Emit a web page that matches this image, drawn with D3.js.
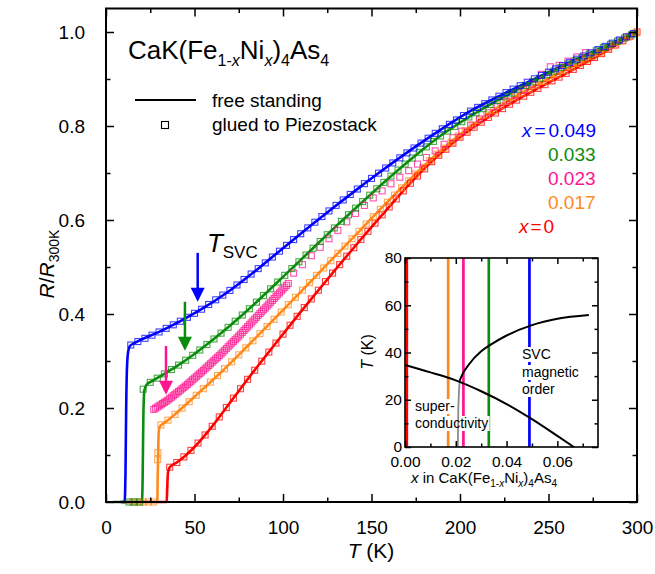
<!DOCTYPE html>
<html>
<head>
<meta charset="utf-8">
<script src="https://cdn.jsdelivr.net/npm/d3@7"></script>
<style>
body { margin: 0; background: #fff; }
svg { font-family: "Liberation Sans", Arial, sans-serif; }
</style>
</head>
<body>
<svg id="chart" width="655" height="574"></svg>
<script>

// ---- main panel data: R/R300K vs T (K) ----
var tempTicks = [0, 50, 100, 150, 200, 250, 300];
var tempMinor = [25, 75, 125, 175, 225, 275];
var resTicks = [0, 0.2, 0.4, 0.6, 0.8, 1.0];
var resMinor = [0.1, 0.3, 0.5, 0.7, 0.9];

// free standing (solid lines)
var blueLineT = [8, 10.5, 11, 11.4, 11.9, 12.6, 13.5, 16, 30, 42, 53, 70, 87, 100, 115, 128, 143.5, 155, 168, 187, 206, 225, 243, 260, 280, 300];
var blueLineR = [0, 0, 0.06, 0.2, 0.29, 0.322, 0.332, 0.338, 0.362, 0.385, 0.408, 0.45, 0.4995, 0.54, 0.586, 0.625, 0.67, 0.7025, 0.738, 0.787, 0.832, 0.869, 0.902, 0.932, 0.966, 1.0];
var greenLineT = [4, 20.3, 20.7, 21.1, 21.7, 23, 26, 30, 40, 50, 60, 70, 80, 90, 100, 115, 130, 145, 160, 175, 190, 205, 220, 240, 260, 280, 300];
var greenLineR = [0, 0, 0.05, 0.18, 0.238, 0.25, 0.257, 0.266, 0.289, 0.315, 0.344, 0.375, 0.408, 0.443, 0.479, 0.533, 0.587, 0.639, 0.69, 0.738, 0.782, 0.819, 0.852, 0.892, 0.93, 0.965, 1.0];
var orangeLineT = [10, 29, 29.2, 29.5, 29.8, 30.5, 32, 35, 40, 50, 65, 80, 95, 110, 125, 140, 155, 170, 185, 200, 215, 230, 245, 260, 280, 300];
var orangeLineR = [0, 0, 0.05, 0.11, 0.15, 0.161, 0.166, 0.174, 0.19, 0.224, 0.276, 0.332, 0.389, 0.447, 0.506, 0.564, 0.623, 0.68, 0.734, 0.782, 0.824, 0.86, 0.891, 0.92, 0.958, 1.0];
var redLineT = [9, 34.3, 34.6, 35, 36, 40, 45, 50, 55, 60, 70, 80, 95, 110, 125, 140, 155, 170, 185, 200, 215, 230, 245, 260, 280, 300];
var redLineR = [0, 0, 0.03, 0.062, 0.074, 0.084, 0.099, 0.117, 0.138, 0.161, 0.211, 0.261, 0.3335, 0.4045, 0.4735, 0.541, 0.6065, 0.6705, 0.728, 0.776, 0.816, 0.851, 0.882, 0.912, 0.954, 1.0];

// glued to piezostack (open squares), one value every 4 K from the start temperature
var gluedStep = 4;
var blueGluedStart = 14;
var blueGlued = [0.334,0.3414,0.3482,0.355,0.3618,0.3694,0.377,0.3846,0.393,0.4014,
  0.4102,0.4202,0.4302,0.4402,0.4502,0.4618,0.4734,0.485,0.4966,0.5088,
  0.5212,0.5336,0.546,0.5584,0.5708,0.5832,0.5953,0.6073,0.6193,0.6311,
  0.6427,0.6543,0.6659,0.6773,0.6885,0.6997,0.7106,0.7214,0.7322,0.7428,
  0.7532,0.7636,0.774,0.7844,0.7941,0.8035,0.8129,0.8223,0.8317,0.8396,
  0.8475,0.8554,0.8634,0.8711,0.8784,0.8857,0.8931,0.9004,0.9075,0.9145,
  0.9215,0.9285,0.9354,0.9422,0.949,0.9558,0.9626,0.9694,0.9762,0.983,0.9898,0.9966];
var greenGluedStart = 21;
var greenGlued = [0.24,0.2546,0.2635,0.2726,0.2818,0.2913,0.3017,0.3121,0.3234,0.335,
  0.3468,0.3592,0.3716,0.3846,0.3978,0.4112,0.4252,0.4392,0.4535,0.4679,
  0.4823,0.4967,0.5111,0.5255,0.5399,0.5543,0.5687,0.5831,0.5972,0.6112,
  0.6252,0.6392,0.6528,0.6664,0.68,0.6934,0.7062,0.719,0.7318,0.744,
  0.7556,0.7672,0.7788,0.7892,0.7992,0.8092,0.8192,0.828,0.8368,0.8456,
  0.8542,0.8622,0.8702,0.8782,0.8862,0.8941,0.9017,0.9093,0.9169,0.9245,
  0.932,0.939,0.946,0.953,0.96,0.9669,0.9737,0.9805,0.9873,0.9941];
var orangeGluedStart = 31;
var orangeGlued = [0.164,0.1741,0.1865,0.1998,0.2134,0.2271,0.2411,0.2551,0.2691,0.2835,
  0.2983,0.3131,0.3279,0.343,0.3582,0.3734,0.3886,0.4042,0.4198,0.4354,
  0.451,0.4666,0.4822,0.4978,0.5134,0.529,0.5446,0.5602,0.5758,0.5914,
  0.607,0.6226,0.6378,0.653,0.6682,0.6832,0.6976,0.712,0.7264,0.74,
  0.7528,0.7656,0.7784,0.79,0.8012,0.8124,0.8236,0.8332,0.8428,0.8524,
  0.8617,0.8701,0.8785,0.8869,0.8949,0.9025,0.9101,0.9177,0.9253,0.9329,
  0.9405,0.9481,0.9557,0.9639,0.9723,0.9807,0.9891,0.9975];
var redGluedStart = 36;
var redGlued = [0.074,0.084,0.096,0.1098,0.1254,0.1426,0.161,0.181,0.201,0.221,
  0.241,0.261,0.2803,0.2996,0.319,0.3382,0.3572,0.3761,0.395,0.4137,
  0.4321,0.4505,0.4689,0.487,0.505,0.523,0.541,0.5585,0.576,0.5934,
  0.611,0.6278,0.6449,0.662,0.6782,0.6935,0.7088,0.7241,0.7376,0.7504,
  0.7632,0.776,0.7867,0.7974,0.808,0.8183,0.8277,0.837,0.8463,0.8551,
  0.8634,0.8717,0.88,0.888,0.896,0.904,0.912,0.9204,0.9288,0.9372,
  0.9456,0.954,0.9632,0.9724,0.9816,0.9908,1.0];
// x = 0.023 was only measured glued: dense (every 1 K) up to 103 K, sparse above
var pinkDenseStart = 27, pinkDenseStep = 1;
var pinkDense = [0.197,0.1995,0.202,0.2045,0.207,0.2095,0.212,0.2145,0.217,
  0.22,0.223,0.226,0.229,0.232,0.235,0.238,0.241,0.244,0.247,
  0.2503,0.2536,0.2569,0.2602,0.2635,0.2668,0.2701,0.2734,0.2767,0.28,
  0.2835,0.287,0.2905,0.294,0.2975,0.301,0.3045,0.308,0.3115,0.315,
  0.3188,0.3226,0.3264,0.3302,0.334,0.3378,0.3416,0.3454,0.3492,0.353,
  0.357,0.361,0.365,0.369,0.373,0.377,0.381,0.385,0.389,0.393,
  0.397,0.401,0.405,0.409,0.413,0.417,0.421,0.425,0.429,0.433,
  0.437,0.441,0.445,0.449,0.453,0.457,0.461,0.465];
var pinkSparseStart = 106, pinkSparseStep = 5;
var pinkSparse = [0.487,0.505,0.524,0.542,0.56,0.578,0.596,0.614,0.631,0.647,
  0.662,0.677,0.691,0.705,0.719,0.733,0.747,0.761,0.775,0.789,
  0.802,0.815,0.828,0.841,0.853,0.865,0.877,0.889,0.91,0.926,
  0.929,0.938,0.947,0.956];
// squares in the superconducting state / in the transition
var greenZeroT = [13, 16, 19];
var orangeZeroT = [15, 18, 21, 24, 27];
var orangeTransT = [29.2, 29.3];
var orangeTransR = [0.09, 0.105];

// T_SVC arrows (blue, green, pink)
var arrowT = [51.8, 44.6, 33.9];
var arrowFrom = [0.53, 0.426, 0.332];
var arrowTo = [0.426, 0.322, 0.228];

// ---- inset: phase diagram ----
var insetXTicks = [0, 0.02, 0.04, 0.06];
var insetXMinor = [0.01, 0.03, 0.05, 0.07];
var insetYTicks = [0, 20, 40, 60, 80];
var insetYMinor = [10, 30, 50, 70];
var insetDoping = [0, 0.017, 0.023, 0.033, 0.049];
var scDomeX = [0, 0.01, 0.02, 0.03, 0.04, 0.05, 0.06, 0.0665];
var scDomeT = [34.7, 31.6, 28.2, 23.6, 18.2, 11.8, 4.7, 0];
var svcX = [0.0215, 0.0225, 0.025, 0.03, 0.0336, 0.04, 0.05, 0.06, 0.0724];
var svcT = [28, 30.5, 34.7, 40.5, 43.2, 47.2, 51.6, 54.3, 55.9];
var svcInsideX = [0.0208, 0.0209, 0.021, 0.0212, 0.0215];
var svcInsideT = [0, 8, 16, 22, 28];

var RED = '#ff0000', ORANGE = '#ff8a1c', PINK = '#ff1490', GREEN = '#0c8c0c', BLUE = '#0000ff';
var dopingColors = [RED, ORANGE, PINK, GREEN, BLUE];

var svg = d3.select('#chart');

var x = d3.scaleLinear().domain([0, 300]).range([106, 637]);
var y = d3.scaleLinear().domain([0, 1.05]).range([502, 8.5]);

function zip(a, b) { return a.map(function(v, i) { return [v, b[i]]; }); }
function stepped(start, step, vals) { return vals.map(function(v, i) { return [start + i * step, v]; }); }

// text with sub-scripts and italics
function rich(t, parts, subSize, drop) {
    var level = 0;
    parts.forEach(function(p) {
        var s = t.append('tspan').text(p.t);
        var want = p.sub ? 1 : 0;
        if (want !== level) { s.attr('dy', want ? drop : -drop); level = want; }
        if (p.sub) s.attr('font-size', subSize);
        if (p.i) s.attr('font-style', 'italic');
        if (p.dx) s.attr('dx', p.dx);
    });
    return t;
}

function drawFrame(g, xs, ys, xt, xm, yt, ym, big, small, xFmt, yFmt, fs, padB, padL, frameW) {
    var r = xs.range(), q = ys.range();
    var bottom = 'translate(0,' + q[0] + ')', top = 'translate(0,' + q[1] + ')';
    var left = 'translate(' + r[0] + ',0)', right = 'translate(' + r[1] + ',0)';
    g.append('g').attr('transform', bottom).call(d3.axisBottom(xs).tickValues(xt).tickSizeInner(-big).tickSizeOuter(0).tickPadding(padB).tickFormat(xFmt));
    g.append('g').attr('transform', bottom).call(d3.axisBottom(xs).tickValues(xm).tickSizeInner(-small).tickSizeOuter(0).tickFormat(''));
    g.append('g').attr('transform', top).call(d3.axisTop(xs).tickValues(xt).tickSizeInner(-big).tickSizeOuter(0).tickFormat(''));
    g.append('g').attr('transform', top).call(d3.axisTop(xs).tickValues(xm).tickSizeInner(-small).tickSizeOuter(0).tickFormat(''));
    g.append('g').attr('transform', left).call(d3.axisLeft(ys).tickValues(yt).tickSizeInner(-big).tickSizeOuter(0).tickPadding(padL).tickFormat(yFmt));
    g.append('g').attr('transform', left).call(d3.axisLeft(ys).tickValues(ym).tickSizeInner(-small).tickSizeOuter(0).tickFormat(''));
    g.append('g').attr('transform', right).call(d3.axisRight(ys).tickValues(yt).tickSizeInner(-big).tickSizeOuter(0).tickFormat(''));
    g.append('g').attr('transform', right).call(d3.axisRight(ys).tickValues(ym).tickSizeInner(-small).tickSizeOuter(0).tickFormat(''));
    g.selectAll('.domain').remove();
    g.selectAll('.tick line').attr('stroke', '#000').attr('stroke-width', 1.5);
    g.selectAll('.tick text').attr('font-size', fs).attr('font-family', '"Liberation Sans", Arial, sans-serif').attr('fill', '#000');
    g.append('rect')
        .attr('x', r[0]).attr('y', q[1])
        .attr('width', r[1] - r[0]).attr('height', q[0] - q[1])
        .attr('fill', 'none').attr('stroke', '#000').attr('stroke-width', frameW);
}

// ---- main curves ----
var line = d3.line().x(d => x(d[0])).y(d => y(d[1])).curve(d3.curveMonotoneX);
var curves = svg.append('g');

var lineSets = [
    [redLineT, redLineR, RED],
    [orangeLineT, orangeLineR, ORANGE],
    [blueLineT, blueLineR, BLUE],
    [greenLineT, greenLineR, GREEN]
];
lineSets.forEach(function(s) {
    curves.append('path')
        .attr('d', line(zip(s[0], s[1])))
        .attr('fill', 'none')
        .attr('stroke', s[2])
        .attr('stroke-width', 2.6)
        .attr('stroke-linejoin', 'round');
});

var sq = 6;
function squares(pts, color) {
    curves.append('g').selectAll('rect').data(pts).enter()
        .append('rect')
        .attr('x', d => x(d[0]) - sq / 2)
        .attr('y', d => y(d[1]) - sq / 2)
        .attr('width', sq).attr('height', sq)
        .attr('fill', 'none')
        .attr('stroke', color)
        .attr('stroke-opacity', 0.75)
        .attr('stroke-width', 1.1);
}
squares(stepped(redGluedStart, gluedStep, redGlued), RED);
squares(orangeZeroT.map(t => [t, 0]).concat(zip(orangeTransT, orangeTransR), stepped(orangeGluedStart, gluedStep, orangeGlued)), ORANGE);
squares(stepped(pinkDenseStart, pinkDenseStep, pinkDense).concat(stepped(pinkSparseStart, pinkSparseStep, pinkSparse)), PINK);
squares(greenZeroT.map(t => [t, 0]).concat(stepped(greenGluedStart, gluedStep, greenGlued)), GREEN);
squares(stepped(blueGluedStart, gluedStep, blueGlued), BLUE);

// arrows marking T_SVC
var arrowColors = [BLUE, GREEN, PINK];
arrowT.forEach(function(t, i) {
    var ax = x(t), y0 = y(arrowFrom[i]), y1 = y(arrowTo[i]);
    var head = 14, half = 7;
    svg.append('line')
        .attr('x1', ax).attr('x2', ax)
        .attr('y1', y0).attr('y2', y1 - head + 1)
        .attr('stroke', arrowColors[i]).attr('stroke-width', 2.5);
    svg.append('path')
        .attr('d', 'M' + (ax - half) + ',' + (y1 - head) + 'L' + (ax + half) + ',' + (y1 - head) + 'L' + ax + ',' + y1 + 'Z')
        .attr('fill', arrowColors[i]);
});

drawFrame(svg.append('g'), x, y, tempTicks, tempMinor, resTicks, resMinor, 8, 4.5,
    d3.format('d'), d3.format('.1f'), 19, 19, 21, 2);

// axis titles
rich(svg.append('text').attr('x', 371).attr('y', 558).attr('text-anchor', 'middle').attr('font-size', 21),
    [{t: 'T', i: 1}, {t: ' (K)'}], 14, 5);
rich(svg.append('text').attr('transform', 'translate(54,264) rotate(-90)').attr('text-anchor', 'middle').attr('font-size', 21),
    [{t: 'R', i: 1}, {t: '/'}, {t: 'R', i: 1}, {t: '300K', sub: 1}], 14, 5);

// title and legend
rich(svg.append('text').attr('x', 128).attr('y', 59).attr('font-size', 26),
    [{t: 'CaK(Fe'}, {t: '1-', sub: 1}, {t: 'x', sub: 1, i: 1}, {t: 'Ni'}, {t: 'x', sub: 1, i: 1}, {t: ')'}, {t: '4', sub: 1}, {t: 'As'}, {t: '4', sub: 1}], 16, 7);
svg.append('line').attr('x1', 135).attr('x2', 196).attr('y1', 100).attr('y2', 100)
    .attr('stroke', '#000').attr('stroke-width', 2);
svg.append('rect').attr('x', 161.5).attr('y', 121.5).attr('width', 7).attr('height', 7)
    .attr('fill', 'none').attr('stroke', '#000').attr('stroke-width', 1.1);
svg.append('text').attr('x', 212).attr('y', 107).attr('font-size', 19).text('free standing');
svg.append('text').attr('x', 212).attr('y', 131).attr('font-size', 19).text('glued to Piezostack');

// doping labels
var labelG = svg.append('g').attr('font-size', 19);
rich(labelG.append('text').attr('x', 522).attr('y', 137).attr('fill', BLUE),
    [{t: 'x', i: 1}, {t: '=', dx: 3}, {t: '0.049', dx: 3}], 19, 0);
labelG.append('text').attr('x', 548).attr('y', 161).attr('fill', GREEN).text('0.033');
labelG.append('text').attr('x', 548).attr('y', 185).attr('fill', PINK).text('0.023');
labelG.append('text').attr('x', 548).attr('y', 209).attr('fill', ORANGE).text('0.017');
rich(labelG.append('text').attr('x', 519).attr('y', 233).attr('fill', RED),
    [{t: 'x', i: 1}, {t: '=', dx: 2}, {t: '0', dx: 2}], 19, 0);

// T_SVC label
rich(svg.append('text').attr('x', x(57)).attr('y', y(0.532)).attr('font-size', 26),
    [{t: 'T', i: 1}, {t: 'SVC', sub: 1}], 17, 6);

// ---- inset ----
var ix = d3.scaleLinear().domain([0, 0.076]).range([405, 598]);
var iy = d3.scaleLinear().domain([0, 80]).range([447, 258]);
var inset = svg.append('g');
inset.append('rect').attr('x', 405).attr('y', 258).attr('width', 193).attr('height', 189).attr('fill', '#fff');

var vLines = inset.append('g');
insetDoping.forEach(function(d, i) {
    var px = ix(d) + (d === 0 ? 1.8 : 0);
    vLines.append('line')
        .attr('x1', px).attr('x2', px)
        .attr('y1', iy(0)).attr('y2', iy(80))
        .attr('stroke', dopingColors[i]).attr('stroke-width', 2.7);
});
var boxes = inset.append('g');
var iline = d3.line().x(d => ix(d[0])).y(d => iy(d[1])).curve(d3.curveMonotoneX);
inset.append('path').attr('d', iline(zip(svcInsideX, svcInsideT)))
    .attr('fill', 'none').attr('stroke', '#8a8a8a').attr('stroke-width', 1.8);
inset.append('path').attr('d', iline(zip(scDomeX, scDomeT)))
    .attr('fill', 'none').attr('stroke', '#000').attr('stroke-width', 2);
inset.append('path').attr('d', iline(zip(svcX, svcT)))
    .attr('fill', 'none').attr('stroke', '#000').attr('stroke-width', 2);

var insetText = inset.append('g').attr('font-size', 14);
[['super-', 415, 411], ['conductivity', 415, 428], ['SVC', 522, 359], ['magnetic', 522, 377], ['order', 522, 394]].forEach(function(l) {
    var t = insetText.append('text').attr('x', l[1]).attr('y', l[2]).text(l[0]);
    var b = t.node().getBBox();
    boxes.append('rect')
        .attr('x', b.x - 1.5).attr('y', b.y + 1)
        .attr('width', b.width + 3).attr('height', b.height - 1)
        .attr('fill', '#fff');
});

drawFrame(inset.append('g'), ix, iy, insetXTicks, insetXMinor, insetYTicks, insetYMinor, 6, 3.5,
    d3.format('.2f'), d3.format('d'), 15.5, 8.5, 3, 1.6);

rich(inset.append('text').attr('transform', 'translate(373,352) rotate(-90)').attr('text-anchor', 'middle').attr('font-size', 16),
    [{t: 'T', i: 1}, {t: ' (K)'}], 11, 4);
rich(inset.append('text').attr('x', 484).attr('y', 483).attr('text-anchor', 'middle').attr('font-size', 15),
    [{t: 'x', i: 1}, {t: ' in CaK(Fe'}, {t: '1-', sub: 1}, {t: 'x', sub: 1, i: 1}, {t: 'Ni'}, {t: 'x', sub: 1, i: 1}, {t: ')'}, {t: '4', sub: 1}, {t: 'As'}, {t: '4', sub: 1}], 10, 4);

</script>
</body>
</html>
